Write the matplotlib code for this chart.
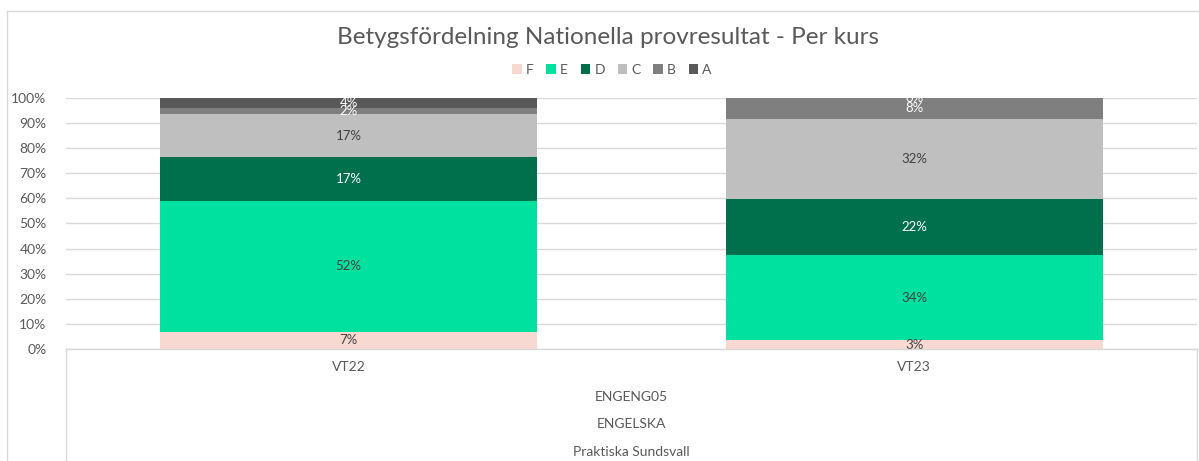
import matplotlib
matplotlib.use("Agg")
import matplotlib.pyplot as plt
from matplotlib.lines import Line2D
from matplotlib.patches import Patch
import numpy as np

plt.rcParams['font.family'] = ['Lato', 'DejaVu Sans']

categories = ['VT22', 'VT23']
grades = ['F', 'E', 'D', 'C', 'B', 'A']
# andel per betyg (procent)
values = {
    'F': [6.8, 3.4],
    'E': [52.2, 34.0],
    'D': [17.4, 22.3],
    'C': [17.2, 32.0],
    'B': [2.4, 8.3],
    'A': [4.0, 0.0],
}
labels = {
    'F': ['7%', '3%'],
    'E': ['52%', '34%'],
    'D': ['17%', '22%'],
    'C': ['17%', '32%'],
    'B': ['2%', '8%'],
    'A': ['4%', '0%'],
}
group_labels = ['ENGENG05', 'ENGELSKA', 'Praktiska Sundsvall']

colors = {'F': '#F7D9D1', 'E': '#00E09F', 'D': '#006F4C',
          'C': '#BFBFBF', 'B': '#7F7F7F', 'A': '#595959'}
text_col = {'F': '#404040', 'E': '#404040', 'D': 'white',
            'C': '#404040', 'B': 'white', 'A': 'white'}
grey = '#595959'

W, H = 1199, 461
fig = plt.figure(figsize=(W / 100, H / 100), dpi=100)
ax = fig.add_axes([66 / W, 1 - 349 / H, (1197 - 66) / W, (349 - 98) / H])

x = np.arange(len(categories))
bottom = np.zeros(len(categories))
for g in grades:
    v = np.array(values[g]) / 100
    ax.bar(x, v, bottom=bottom, width=0.667, color=colors[g], zorder=2)
    for i in range(len(x)):
        ax.text(x[i], bottom[i] + v[i] / 2, labels[g][i], ha='center', va='center',
                fontsize=9.5, color=text_col[g], zorder=3)
    bottom += v

ax.set_xlim(-0.5, 1.5)
ax.set_ylim(0, 1)
ax.set_yticks(np.arange(0, 1.01, 0.1))
ax.set_yticklabels([f'{int(round(t * 100))}%' for t in np.arange(0, 1.01, 0.1)],
                   color=grey, fontsize=10)
ax.set_xticks([])
ax.tick_params(axis='y', length=0, pad=14)
ax.yaxis.grid(True, color='#D9D9D9', lw=1, zorder=0)
for s in ax.spines.values():
    s.set_visible(False)

# kategori-ruta under diagrammet
fx = lambda px: px / W
fy = lambda py: 1 - py / H
for xs, ys in [([66, 1197], [349, 349]), ([66, 66], [349, 461]), ([1197, 1197], [349, 461]),
               ([7, 1199], [11, 11]), ([7, 7], [11, 461])]:
    fig.add_artist(Line2D([fx(a) for a in xs], [fy(b) for b in ys], color='#D9D9D9', lw=1))

blend = matplotlib.transforms.blended_transform_factory(ax.transData, fig.transFigure)
for i, c in enumerate(categories):
    ax.text(x[i], fy(367), c, transform=blend,
            ha='center', va='center', fontsize=10, color=grey)
for lab, py in zip(group_labels, [397, 424, 452]):
    fig.text(fx(631), fy(py), lab, ha='center', va='center', fontsize=10, color=grey)

fig.text(fx(608), fy(37), 'Betygsfördelning Nationella provresultat - Per kurs',
         ha='center', va='center', fontsize=17.5, color=grey)

handles = [Patch(facecolor=colors[g], edgecolor='none', label=g) for g in grades]
fig.legend(handles=handles, loc='center', bbox_to_anchor=(fx(612), fy(70)), ncol=6,
           frameon=False, fontsize=10, handlelength=0.7, handleheight=0.7,
           handletextpad=0.3, columnspacing=0.9, labelcolor=grey)

fig.savefig('out.png', dpi=100)
